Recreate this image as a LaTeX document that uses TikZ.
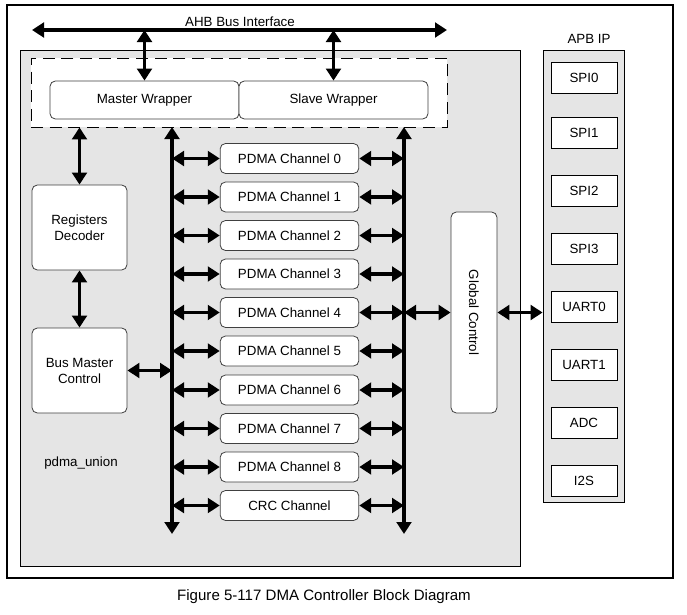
\documentclass[tikz,border=0pt]{standalone}
\usepackage{fontspec}
\setmainfont{Liberation Sans}
\usetikzlibrary{arrows.meta}

\begin{document}
\begin{tikzpicture}[x=0.75pt, y=-0.75pt, font=\fontsize{10}{12}\selectfont,
    rbox/.style={draw=black!75, fill=white, rounded corners=4pt, inner sep=0pt, line width=0.6pt, align=center},
    chan/.style={rbox, minimum width=104pt, minimum height=22.5pt},
    ipbox/.style={draw, fill=white, minimum width=49.5pt, minimum height=23.25pt, inner sep=0pt, line width=0.6pt},
    bus/.style={line width=2.9pt, {Triangle[length=9pt,width=11pt]}-{Triangle[length=9pt,width=11pt]}}]
    \useasboundingbox (0,0) rectangle (687,615);

    \draw[line width=0.8pt] (7,5) rectangle (673,578);
    \draw[fill=black!10, line width=0.6pt] (20,50) rectangle (520,566);
    \node (union) at (81,463) {pdma\_union};

    \node[draw, dashed, dash pattern=on 9pt off 5pt, fill=white, line width=0.6pt,
        minimum width=312pt, minimum height=51.75pt] (wrap) at (239,92.5) {};
    \node[rbox, minimum width=141.75pt, minimum height=28.5pt] (mw) at (144.5,100) {Master Wrapper};
    \node[rbox, minimum width=141.75pt, minimum height=28.5pt] (sw) at (333.5,100) {Slave Wrapper};

    \coordinate (ahbL) at (32,30);
    \coordinate (ahbR) at (447,30);
    \node (ahb) at (240,21.5) {AHB Bus Interface};
    \draw[bus] (ahbL) -- (ahbR);
    \draw[bus] (mw.north |- ahbL) -- (mw.north);
    \draw[bus] (sw.north |- ahbL) -- (sw.north);

    \node[rbox, minimum width=71.25pt, minimum height=63.75pt] (rd) at (79.5,227.5) {Registers\\Decoder};
    \node[rbox, minimum width=71.25pt, minimum height=63.75pt] (bmc) at (79.5,370.5) {Bus Master\\Control};
    \draw[bus] (rd.north |- wrap.south) -- (rd.north);
    \draw[bus] (rd.south) -- (bmc.north);

    \coordinate (lbT) at (172,127);
    \coordinate (lbB) at (172,534);
    \coordinate (rbT) at (404,127);
    \coordinate (rbB) at (404,534);
    \draw[bus] (lbT) -- (lbB);
    \draw[bus] (rbT) -- (rbB);
    \draw[bus] (bmc.east) -- (bmc.east -| lbT);

    \node[chan] (ch0) at (289.5,158.5) {PDMA Channel 0};
    \node[chan] (ch1) at (289.5,197) {PDMA Channel 1};
    \node[chan] (ch2) at (289.5,235.5) {PDMA Channel 2};
    \node[chan] (ch3) at (289.5,274) {PDMA Channel 3};
    \node[chan] (ch4) at (289.5,312.5) {PDMA Channel 4};
    \node[chan] (ch5) at (289.5,351) {PDMA Channel 5};
    \node[chan] (ch6) at (289.5,390) {PDMA Channel 6};
    \node[chan] (ch7) at (289.5,428.5) {PDMA Channel 7};
    \node[chan] (ch8) at (289.5,467) {PDMA Channel 8};
    \node[chan] (crc) at (289.5,505.5) {CRC Channel};

    \draw[bus] (ch0.west -| lbT) -- (ch0.west);
    \draw[bus] (ch1.west -| lbT) -- (ch1.west);
    \draw[bus] (ch2.west -| lbT) -- (ch2.west);
    \draw[bus] (ch3.west -| lbT) -- (ch3.west);
    \draw[bus] (ch4.west -| lbT) -- (ch4.west);
    \draw[bus] (ch5.west -| lbT) -- (ch5.west);
    \draw[bus] (ch6.west -| lbT) -- (ch6.west);
    \draw[bus] (ch7.west -| lbT) -- (ch7.west);
    \draw[bus] (ch8.west -| lbT) -- (ch8.west);
    \draw[bus] (crc.west -| lbT) -- (crc.west);

    \draw[bus] (ch0.east) -- (ch0.east -| rbT);
    \draw[bus] (ch1.east) -- (ch1.east -| rbT);
    \draw[bus] (ch2.east) -- (ch2.east -| rbT);
    \draw[bus] (ch3.east) -- (ch3.east -| rbT);
    \draw[bus] (ch4.east) -- (ch4.east -| rbT);
    \draw[bus] (ch5.east) -- (ch5.east -| rbT);
    \draw[bus] (ch6.east) -- (ch6.east -| rbT);
    \draw[bus] (ch7.east) -- (ch7.east -| rbT);
    \draw[bus] (ch8.east) -- (ch8.east -| rbT);
    \draw[bus] (crc.east) -- (crc.east -| rbT);

    \node[rbox, rotate=-90, minimum width=150.75pt, minimum height=34.5pt] (gc) at (474,312.5) {Global Control};
    \draw[bus] (gc.south -| rbT) -- (gc.south);

    \node[draw, fill=black!10, line width=0.6pt, inner sep=0pt,
        minimum width=60.75pt, minimum height=339pt] (apb) at (583.5,276) {};
    \node (apbip) at (589,39) {APB IP};
    \node[ipbox] (spi0) at (584,77.5) {SPI0};
    \node[ipbox] (spi1) at (584,133) {SPI1};
    \node[ipbox] (spi2) at (584,191) {SPI2};
    \node[ipbox] (spi3) at (584,248.5) {SPI3};
    \node[ipbox] (uart0) at (584,306.5) {UART0};
    \node[ipbox] (uart1) at (584,364.5) {UART1};
    \node[ipbox] (adc) at (584,422.5) {ADC};
    \node[ipbox] (i2s) at (584,480.5) {I2S};
    \draw[bus] (gc.north) -- (gc.north -| apb.west);

    \node[font=\fontsize{11.3}{13}\selectfont] (caption) at (324,597) {Figure 5-117 DMA Controller Block Diagram};
\end{tikzpicture}
\end{document}
